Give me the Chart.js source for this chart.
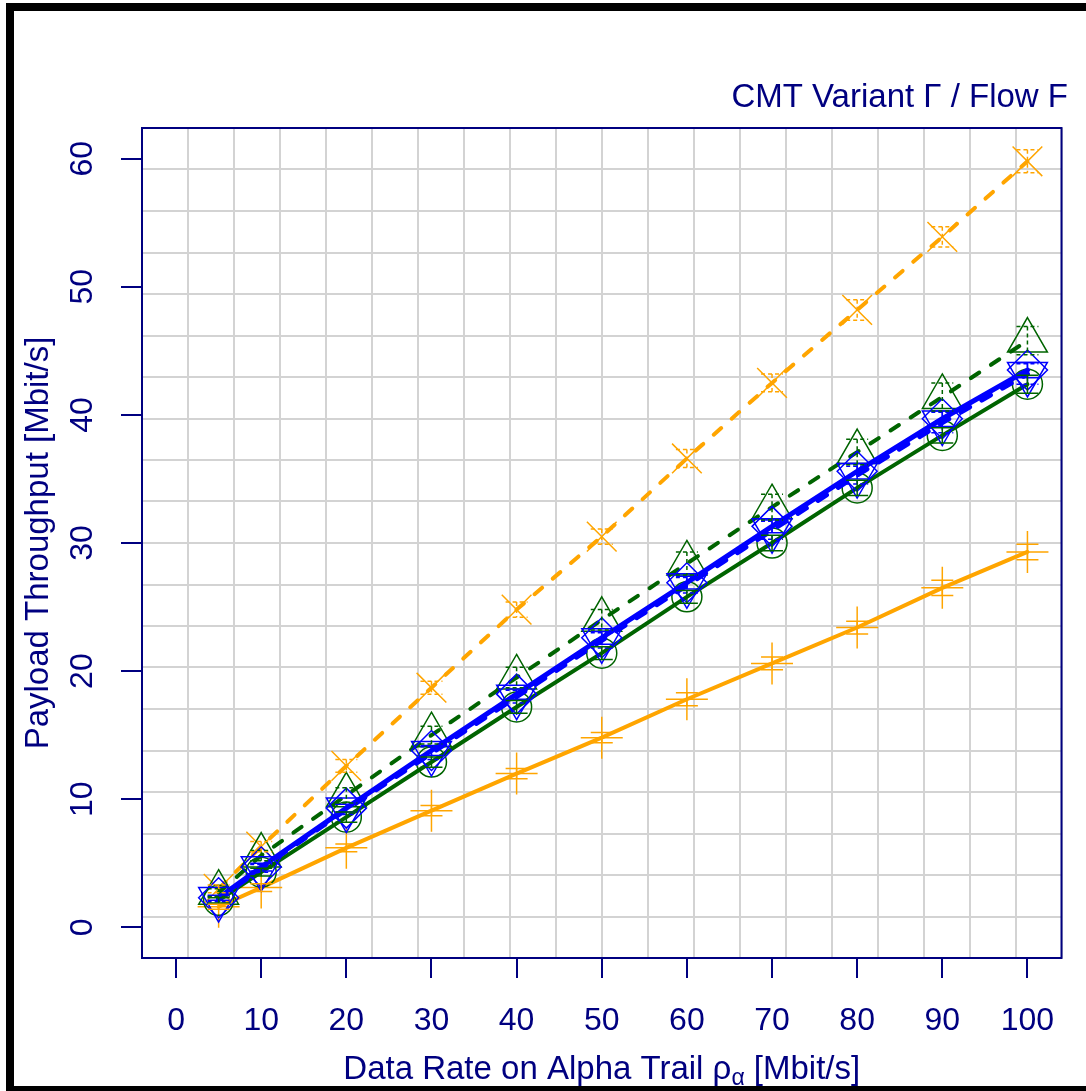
<!DOCTYPE html>
<html lang="en">
<head>
    <meta charset="UTF-8">
    <title>CMT Variant Γ / Flow F</title>
    <script src="https://cdn.jsdelivr.net/npm/chart.js@4.4.1/dist/chart.umd.min.js"></script>
    <style>
        html, body { margin: 0; padding: 0; background: #fff; overflow: hidden; }
        #frame { position: absolute; left: 6px; top: 3px; width: 1200px; height: 1075px;
                 border-left: 8px solid #000; border-top: 8px solid #000; border-bottom: 8px solid #000; }
        #myChart { position: absolute; left: 0; top: 0; }
    </style>
</head>
<body>
    <div id="frame"></div>
    <canvas id="myChart" width="1086" height="1091"></canvas>
    <script>
        // values
        const xRate       = [5, 10, 20, 30, 40, 50, 60, 70, 80, 90, 100];
        const orangeDash  = [3.0, 6.3, 12.6, 18.7, 24.8, 30.5, 36.6, 42.5, 48.2, 53.9, 59.8];
        const orangeSolid = [1.6, 3.1, 6.2, 9.1, 12.0, 14.8, 17.8, 20.6, 23.4, 26.5, 29.3];
        const greenDash   = [2.7, 5.6, 10.3, 15.0, 19.5, 24.0, 28.4, 32.8, 37.1, 41.4, 45.8];
        const greenSolid  = [2.1, 4.3, 8.6, 12.9, 17.2, 21.4, 25.8, 30.0, 34.3, 38.4, 42.4];
        const blueDash    = [2.2, 4.6, 9.2, 13.6, 18.0, 22.4, 26.7, 31.0, 35.3, 39.4, 43.2];
        const blueSolid   = [2.3, 4.7, 9.3, 13.8, 18.2, 22.6, 26.9, 31.3, 35.6, 39.7, 43.5];

        // half widths of the confidence intervals
        const orangeDashErr  = [0.3, 0.4, 0.5, 0.5, 0.6, 0.6, 0.7, 0.7, 0.8, 0.8, 0.9];
        const orangeSolidErr = [0.2, 0.3, 0.3, 0.4, 0.4, 0.4, 0.5, 0.5, 0.5, 0.6, 0.6];
        const greenDashErr   = [0.3, 0.4, 0.6, 0.7, 0.8, 0.8, 0.9, 1.0, 1.0, 1.1, 1.1];
        const greenSolidErr  = [0.2, 0.3, 0.4, 0.4, 0.5, 0.5, 0.5, 0.6, 0.6, 0.6, 0.7];
        const blueDashErr    = [0.2, 0.3, 0.4, 0.5, 0.5, 0.6, 0.6, 0.7, 0.7, 0.8, 0.8];
        const blueSolidErr   = [0.2, 0.3, 0.3, 0.4, 0.4, 0.5, 0.5, 0.5, 0.6, 0.6, 0.6];

        const xTicks = [0, 10, 20, 30, 40, 50, 60, 70, 80, 90, 100];
        const yTicks = [0, 10, 20, 30, 40, 50, 60];

        const NAVY   = '#000080';
        const ORANGE = '#FFA500';
        const GREEN  = '#006400';
        const BLUE   = '#0000FF';
        const FONT   = 'Liberation Sans';

        Chart.defaults.font.family = FONT;

        function series(vals, err, color, dashed, style, radius, rot, width) {
            return {
                data: xRate.map((x, i) => ({x: x, y: vals[i]})),
                err: err,
                borderColor: color,
                backgroundColor: 'transparent',
                borderWidth: width || 4,
                borderDash: dashed ? [10, 14] : [],
                borderCapStyle: 'round',
                pointStyle: style,
                pointRadius: radius,
                pointRotation: rot || 0,
                pointBorderColor: color,
                pointBackgroundColor: 'transparent',
                pointBorderWidth: 1.5,
                tension: 0
            };
        }

        // grid splits the plot region in 20 equal parts (R grid())
        function gridTicks(s) {
            const t = [];
            for (let i = 0; i <= 20; i++) t.push({value: s.min + i * (s.max - s.min) / 20});
            s.ticks = t;
        }

        const errBars = {
            id: 'errBars',
            afterDatasetsDraw(chart) {
                const ctx = chart.ctx, ys = chart.scales.y;
                chart.data.datasets.forEach((ds, i) => {
                    const meta = chart.getDatasetMeta(i);
                    ctx.save();
                    ctx.strokeStyle = ds.borderColor;
                    ctx.lineWidth = 1.5;
                    ctx.setLineDash(ds.borderDash.length ? [4, 3] : []);
                    meta.data.forEach((pt, j) => {
                        const v = ds.data[j].y, e = ds.err[j];
                        const top = ys.getPixelForValue(v + e), bot = ys.getPixelForValue(v - e);
                        ctx.beginPath();
                        ctx.moveTo(pt.x, top); ctx.lineTo(pt.x, bot);
                        ctx.moveTo(pt.x - 11, top); ctx.lineTo(pt.x + 11, top);
                        ctx.moveTo(pt.x - 11, bot); ctx.lineTo(pt.x + 11, bot);
                        ctx.stroke();
                    });
                    ctx.restore();
                });
            }
        };

        const boxAndTitle = {
            id: 'boxAndTitle',
            afterDraw(chart) {
                const ctx = chart.ctx, a = chart.chartArea;
                ctx.save();
                ctx.strokeStyle = NAVY;
                ctx.lineWidth = 2;
                ctx.strokeRect(a.left, a.top, a.right - a.left, a.bottom - a.top);

                // x axis title with subscript alpha
                const p1 = 'Data Rate on Alpha Trail \u03C1', p2 = '\u03B1', p3 = ' [Mbit/s]';
                ctx.fillStyle = NAVY;
                ctx.textBaseline = 'alphabetic';
                ctx.font = '33px "' + FONT + '"';
                const w1 = ctx.measureText(p1).width, w3 = ctx.measureText(p3).width;
                ctx.font = '23px "' + FONT + '"';
                const w2 = ctx.measureText(p2).width;
                let x = (a.left + a.right) / 2 - (w1 + w2 + w3) / 2;
                const base = 1079;
                ctx.font = '33px "' + FONT + '"';
                ctx.fillText(p1, x, base);
                x += w1;
                ctx.font = '23px "' + FONT + '"';
                ctx.fillText(p2, x, base + 6);
                x += w2;
                ctx.font = '33px "' + FONT + '"';
                ctx.fillText(p3, x, base);
                ctx.restore();
            }
        };

        const ctx = document.getElementById('myChart').getContext('2d');
        const myChart = new Chart(ctx, {
            type: 'line',
            data: {
                datasets: [
                    series(blueSolid, blueSolidErr, BLUE, false, 'rectRot', 20, 0, 5),
                    series(blueDash, blueDashErr, BLUE, true, 'triangle', 23, 180, 5),
                    series(greenSolid, greenSolidErr, GREEN, false, 'circle', 15),
                    series(greenDash, greenDashErr, GREEN, true, 'triangle', 23),
                    series(orangeSolid, orangeSolidErr, ORANGE, false, 'cross', 21),
                    series(orangeDash, orangeDashErr, ORANGE, true, 'crossRot', 21)
                ]
            },
            options: {
                responsive: false,
                devicePixelRatio: 1,
                animation: false,
                layout: { padding: { left: 0, right: 18, top: 0, bottom: 0 } },
                plugins: {
                    legend: { display: false },
                    tooltip: { enabled: false },
                    title: {
                        display: true,
                        text: 'CMT Variant \u0393 / Flow F',
                        align: 'end',
                        color: NAVY,
                        font: { size: 33, weight: 'normal' },
                        padding: { top: 78.5, bottom: 9.9 }
                    }
                },
                scales: {
                    x: {
                        type: 'linear', position: 'bottom', min: -4, max: 104,
                        afterBuildTicks: s => { s.ticks = xTicks.map(v => ({value: v})); },
                        afterFit: s => { s.height = 133; },
                        border: { display: false },
                        grid: { drawOnChartArea: false, tickLength: 20, color: NAVY, lineWidth: 2 },
                        ticks: { color: NAVY, font: { size: 32 }, padding: 24, autoSkip: false, maxRotation: 0 }
                    },
                    y: {
                        type: 'linear', position: 'left', min: -2.4, max: 62.4,
                        afterBuildTicks: s => { s.ticks = yTicks.map(v => ({value: v})); },
                        afterFit: s => { s.width = 142; },
                        border: { display: false },
                        grid: { drawOnChartArea: false, tickLength: 21, color: NAVY, lineWidth: 2 },
                        ticks: { color: NAVY, font: { size: 32 }, padding: 20, minRotation: 90, maxRotation: 90, crossAlign: 'center', autoSkip: false },
                        title: { display: true, text: 'Payload Throughput [Mbit/s]', color: NAVY, font: { size: 33 }, padding: { top: 19, bottom: 0 } }
                    },
                    xg: {
                        type: 'linear', position: 'top', min: -4, max: 104,
                        afterBuildTicks: gridTicks,
                        afterFit: s => { s.height = 0; },
                        border: { display: false },
                        grid: { drawTicks: false, color: '#D3D3D3', lineWidth: 2 },
                        ticks: { display: false }
                    },
                    yg: {
                        type: 'linear', position: 'right', min: -2.4, max: 62.4,
                        afterBuildTicks: gridTicks,
                        afterFit: s => { s.width = 0; },
                        border: { display: false },
                        grid: { drawTicks: false, color: '#D3D3D3', lineWidth: 2 },
                        ticks: { display: false }
                    }
                }
            },
            plugins: [errBars, boxAndTitle]
        });
    </script>
</body>
</html>
